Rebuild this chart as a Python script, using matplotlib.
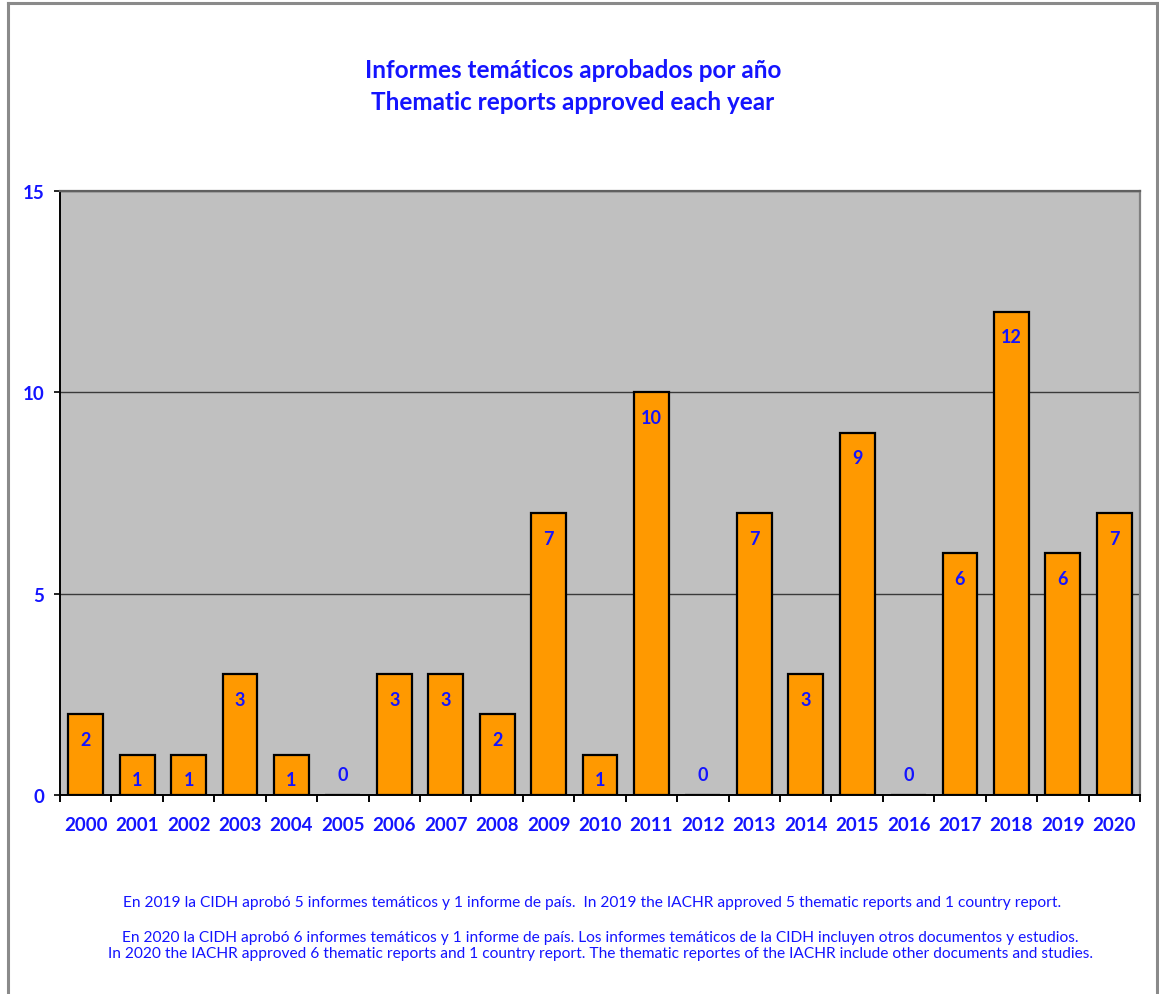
import matplotlib
matplotlib.use("Agg")
import matplotlib.pyplot as plt
from matplotlib.lines import Line2D
import numpy as np

years = ["2000", "2001", "2002", "2003", "2004", "2005", "2006", "2007", "2008", "2009", "2010",
         "2011", "2012", "2013", "2014", "2015", "2016", "2017", "2018", "2019", "2020"]
reports = [2, 1, 1, 3, 1, 0, 3, 3, 2, 7, 1, 10, 0, 7, 3, 9, 0, 6, 12, 6, 7]
y_ticks = [0, 5, 10, 15]

title_lines = ["Informes temáticos aprobados por año", "Thematic reports approved each year"]
note_2019 = ("En 2019 la CIDH aprobó 5 informes temáticos y 1 informe de país.  "
             "In 2019 the IACHR approved 5 thematic reports and 1 country report.")
note_2020 = ("En 2020 la CIDH aprobó 6 informes temáticos y 1 informe de país. Los informes temáticos "
             "de la CIDH incluyen otros documentos y estudios.\n"
             "In 2020 the IACHR approved 6 thematic reports and 1 country report. The thematic reportes "
             "of the IACHR include other documents and studies.")

BLUE = "#1414ff"
FONT = "Lato"

fig = plt.figure(figsize=(11.59, 9.95), dpi=100)
W, H = 1159, 995
ax = fig.add_axes([60 / W, 1 - 796 / H, (1140 - 60) / W, (796 - 192) / H])
ax.set_facecolor("#c0c0c0")

x = np.arange(len(years))
ax.bar(x, reports, width=0.68, color="#ff9900", edgecolor="black", linewidth=1.6, zorder=3)

for xi, v in zip(x, reports):
    if v > 0:
        ax.annotate(str(v), (xi, v), xytext=(0, -12), textcoords="offset points",
                    ha="center", va="top", color=BLUE, fontsize=13,
                    fontweight="bold", family=FONT, zorder=4)
    else:
        ax.annotate(str(v), (xi, v), xytext=(0, 15), textcoords="offset points",
                    ha="center", va="center", color=BLUE, fontsize=13,
                    fontweight="bold", family=FONT, zorder=4)

ax.set_xlim(-0.5, len(years) - 0.5)
ax.set_ylim(0, 15)
ax.set_yticks(y_ticks)
ax.set_yticklabels([str(t) for t in y_ticks])
ax.yaxis.grid(True, color="#3a3a3a", linewidth=1.0, zorder=1)
ax.set_axisbelow(True)

ax.set_xticks(x)
ax.set_xticklabels(years)
ax.set_xticks(np.arange(-0.5, len(years), 1.0), minor=True)
ax.tick_params(axis="x", which="major", length=0, pad=15)
ax.tick_params(axis="x", which="minor", length=5, width=1.4, color="black", direction="out")
ax.tick_params(axis="y", length=4.5, width=1.2, color="black", direction="out", pad=7)

for lab in ax.get_xticklabels() + ax.get_yticklabels():
    lab.set_color(BLUE)
    lab.set_fontweight("bold")
    lab.set_fontsize(13.5)
    lab.set_family(FONT)

ax.spines["left"].set_color("black")
ax.spines["left"].set_linewidth(1.4)
ax.spines["bottom"].set_color("black")
ax.spines["bottom"].set_linewidth(1.4)
ax.spines["top"].set_color("#606060")
ax.spines["top"].set_linewidth(1.6)
ax.spines["right"].set_color("#808080")
ax.spines["right"].set_linewidth(1.6)

fig.text(573 / W, 1 - 70 / H, title_lines[0], ha="center", va="center", color=BLUE,
         fontsize=17.5, fontweight="bold", family=FONT)
fig.text(573 / W, 1 - 103 / H, title_lines[1], ha="center", va="center", color=BLUE,
         fontsize=17.5, fontweight="bold", family=FONT)

fig.text(592 / W, 1 - 903 / H, note_2019, ha="center", va="center", color=BLUE,
         fontsize=11.2, family=FONT)
fig.text(600 / W, 1 - 946 / H, note_2020, ha="center", va="center", color=BLUE,
         fontsize=11.2, family=FONT, linespacing=1.12)

# outer frame of the chart object
fig.add_artist(Line2D([8 / W, 8 / W], [0, 1 - 4 / H], color="#8a8a8a", linewidth=2.2))
fig.add_artist(Line2D([8 / W, 1157 / W], [1 - 4 / H, 1 - 4 / H], color="#8a8a8a", linewidth=2.2))
fig.add_artist(Line2D([1157 / W, 1157 / W], [0, 1 - 4 / H], color="#8a8a8a", linewidth=2.2))

fig.savefig("out.png", dpi=100, facecolor="white")
